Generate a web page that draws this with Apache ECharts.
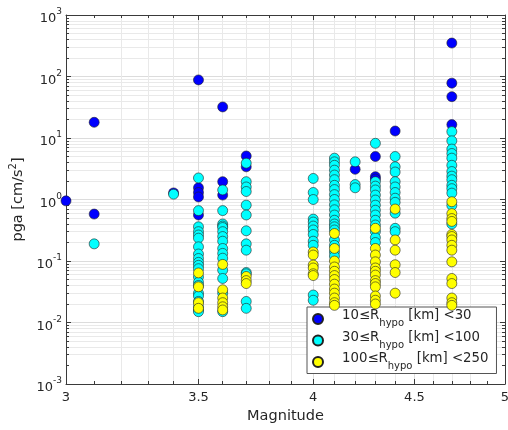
<!DOCTYPE html>
<html>
<head>
<meta charset="utf-8">
<script src="https://cdn.jsdelivr.net/npm/echarts@6/dist/echarts.min.js"></script>
<style>
html,body{margin:0;padding:0;background:#fff;}
#chart{width:508px;height:430px;}
</style>
</head>
<body>
<div id="chart"></div>
<script>
// ---------- data (magnitude, pga in cm/s^2) ----------
const seriesNames = ['10≤Rhypo [km] <30', '30≤Rhypo [km] <100', '100≤Rhypo [km] <250'];
const seriesColors = ['#0000ff', '#00ffff', '#ffff00'];

const rhypo10to30 = [
  [3.0,0.95],[3.1,18],[3.1,0.58],[3.4,1.28],
  [3.5,88],[3.5,1.55],[3.5,1.3],[3.5,1.1],[3.5,0.56],
  [3.6,32],[3.6,1.95],[3.6,1.18],
  [3.7,5.1],[3.7,3.4],
  [4.2,3.1],
  [4.3,5.0],[4.3,2.35],[4.3,2.15],
  [4.4,13],
  [4.7,350],[4.7,78],[4.7,47],[4.7,16.5]
];

const rhypo30to100 = [
  [3.1,0.19],[3.4,1.22],
  [3.5,2.24],[3.5,0.66],[3.5,0.36],[3.5,0.30],[3.5,0.265],[3.5,0.235],[3.5,0.17],[3.5,0.13],[3.5,0.11],
  [3.5,0.095],[3.5,0.085],[3.5,0.075],[3.5,0.055],[3.5,0.045],[3.5,0.040],[3.5,0.030],[3.5,0.027],
  [3.5,0.022],[3.5,0.018],[3.5,0.016],[3.5,0.015],
  [3.6,1.43],[3.6,0.66],[3.6,0.40],[3.6,0.37],[3.6,0.35],[3.6,0.30],[3.6,0.25],[3.6,0.21],[3.6,0.16],
  [3.6,0.133],[3.6,0.111],[3.6,0.071],[3.6,0.052],[3.6,0.030],[3.6,0.015],
  [3.7,3.9],[3.7,1.95],[3.7,1.6],[3.7,1.35],[3.7,0.81],[3.7,0.56],[3.7,0.31],[3.7,0.19],[3.7,0.15],
  [3.7,0.065],[3.7,0.062],[3.7,0.022],[3.7,0.017],
  [4.0,2.2],[4.0,1.3],[4.0,1.0],[4.0,0.48],[4.0,0.43],[4.0,0.37],[4.0,0.32],[4.0,0.27],[4.0,0.21],
  [4.0,0.18],[4.0,0.028],[4.0,0.023],
  [4.1,4.7],[4.1,4.1],[4.1,3.6],[4.1,3.0],[4.1,2.5],[4.1,2.1],[4.1,1.7],[4.1,1.45],[4.1,1.2],[4.1,1.0],
  [4.1,0.82],[4.1,0.68],[4.1,0.56],[4.1,0.46],[4.1,0.40],[4.1,0.36],[4.1,0.32],[4.1,0.22],[4.1,0.18],
  [4.1,0.14],[4.1,0.12],
  [4.2,4.1],[4.2,1.75],[4.2,1.55],
  [4.3,8.2],[4.3,1.95],[4.3,1.65],[4.3,1.43],[4.3,1.18],[4.3,0.98],[4.3,0.81],[4.3,0.67],[4.3,0.56],
  [4.3,0.46],[4.3,0.385],[4.3,0.30],[4.3,0.24],[4.3,0.20],
  [4.4,5.0],[4.4,3.4],[4.4,2.8],[4.4,1.95],[4.4,1.6],[4.4,1.3],[4.4,1.05],[4.4,0.9],[4.4,0.6],
  [4.4,0.34],[4.4,0.30],
  [4.7,12.7],[4.7,9.0],[4.7,6.6],[4.7,5.6],[4.7,4.7],[4.7,3.6],[4.7,2.85],[4.7,2.4],[4.7,2.1],
  [4.7,1.7],[4.7,1.5],[4.7,1.27],[4.7,0.8],[4.7,0.4]
];

const rhypo100to250 = [
  [3.5,0.064],[3.5,0.038],[3.5,0.021],[3.5,0.017],
  [3.6,0.088],[3.6,0.034],[3.6,0.025],[3.6,0.021],[3.6,0.018],[3.6,0.016],
  [3.7,0.056],[3.7,0.048],[3.7,0.043],
  [4.0,0.14],[4.0,0.125],[4.0,0.086],[4.0,0.077],[4.0,0.062],[4.0,0.058],
  [4.1,0.28],[4.1,0.16],[4.1,0.10],[4.1,0.08],[4.1,0.068],[4.1,0.058],[4.1,0.05],[4.1,0.042],
  [4.1,0.035],[4.1,0.03],[4.1,0.025],[4.1,0.021],[4.1,0.019],
  [4.3,0.34],[4.3,0.16],[4.3,0.125],[4.3,0.097],[4.3,0.077],[4.3,0.068],[4.3,0.059],[4.3,0.048],
  [4.3,0.043],[4.3,0.038],[4.3,0.027],[4.3,0.023],[4.3,0.02],
  [4.4,0.7],[4.4,0.22],[4.4,0.15],[4.4,0.087],[4.4,0.065],[4.4,0.03],
  [4.7,0.92],[4.7,0.59],[4.7,0.49],[4.7,0.44],[4.7,0.27],[4.7,0.25],[4.7,0.22],[4.7,0.18],[4.7,0.15],
  [4.7,0.097],[4.7,0.052],[4.7,0.043],[4.7,0.025],[4.7,0.021],[4.7,0.019]
];

// ---------- tick labels ----------
const magTickLabels = [3, 3.5, 4, 4.5, 5];
const magMinorTicks = [3.1,3.2,3.3,3.4,3.6,3.7,3.8,3.9,4.1,4.2,4.3,4.4,4.6,4.7,4.8,4.9];
const pgaExponents = [-3, -2, -1, 0, 1, 2, 3];
const pgaMinorMultipliers = [2, 3, 4, 5, 6, 7, 8, 9];

// ---------- build (log-log axes) ----------
const lg = Math.log10;
const xMin = lg(magTickLabels[0]), xMax = lg(magTickLabels[magTickLabels.length - 1]);
const yMin = pgaExponents[0], yMax = pgaExponents[pgaExponents.length - 1];
const xMajor = magTickLabels.map(lg);
const xMinor = magMinorTicks.map(lg);
const yMajor = pgaExponents.slice();
const yMinor = [];
for (let i = 0; i < pgaExponents.length - 1; i++) {
  pgaMinorMultipliers.forEach(k => yMinor.push(pgaExponents[i] + lg(k)));
}
const toLog = arr => arr.map(p => [lg(p[0]), lg(p[1])]);

const FONT = 'DejaVu Sans';
const TXT = '#262626';
const FRAME = '#3a3a3a';
const MAJOR_GRID = '#dcdcdc';
const MINOR_GRID = '#e9e9e9';

function xAxisDef(position, ticks, len, withLine, withLabel, grid) {
  const a = {
    type: 'value', position: position, min: xMin, max: xMax,
    axisLine: {show: withLine, onZero: false, lineStyle: {color: FRAME, width: 1}},
    axisTick: {show: true, inside: true, length: len, customValues: ticks, lineStyle: {color: FRAME, width: 1}},
    axisLabel: {show: false},
    splitLine: grid ? {show: true, showMinLine: false, showMaxLine: false, lineStyle: {color: grid, width: 1}} : {show: false},
    z: grid ? 0 : 3
  };
  if (withLabel) {
    a.axisLabel = {
      show: true, customValues: ticks, margin: 7,
      color: TXT, fontSize: 13, fontFamily: FONT,
      formatter: v => String(parseFloat(Math.pow(10, v).toFixed(2)))
    };
    a.name = 'Magnitude';
    a.nameLocation = 'middle';
    a.nameGap = 24;
    a.nameTextStyle = {color: TXT, fontSize: 14.5, fontFamily: FONT, verticalAlign: 'top'};
  }
  return a;
}

function yAxisDef(position, ticks, len, withLine, withLabel, grid) {
  const a = {
    type: 'value', position: position, min: yMin, max: yMax,
    axisLine: {show: withLine, onZero: false, lineStyle: {color: FRAME, width: 1}},
    axisTick: {show: true, inside: true, length: len, customValues: ticks, lineStyle: {color: FRAME, width: 1}},
    axisLabel: {show: false},
    splitLine: grid ? {show: true, showMinLine: false, showMaxLine: false, lineStyle: {color: grid, width: 1}} : {show: false},
    z: grid ? 0 : 3
  };
  if (withLabel) {
    a.axisLabel = {
      show: true, customValues: ticks, margin: 4,
      color: TXT, fontSize: 13, fontFamily: FONT,
      formatter: v => '{b|10}{s|' + Math.round(v) + '}',
      rich: {
        b: {color: TXT, fontSize: 13, fontFamily: FONT, lineHeight: 14, verticalAlign: 'bottom'},
        s: {color: TXT, fontSize: 9, fontFamily: FONT, padding: [3, 0, 9, 0], verticalAlign: 'top'}
      }
    };
    a.name = 'pga [cm/s{s|2}]';
    a.nameLocation = 'middle';
    a.nameGap = 33;
    a.nameTextStyle = {
      color: TXT, fontSize: 14.5, fontFamily: FONT,
      rich: {
        s: {color: TXT, fontSize: 10, fontFamily: FONT, padding: [0, 0, 10, 0], verticalAlign: 'top'}
      }
    };
  }
  return a;
}

const chart = echarts.init(document.getElementById('chart'), null, {renderer: 'canvas'});
chart.setOption({
  backgroundColor: '#ffffff',
  animation: false,
  grid: {left: 66, top: 15, width: 439, height: 369, containLabel: false, outerBoundsMode: 'none'},
  xAxis: [
    xAxisDef('bottom', xMajor, 5, true, true, MAJOR_GRID),
    xAxisDef('bottom', xMinor, 3, false, false, MINOR_GRID),
    xAxisDef('top', xMajor, 5, true, false, null),
    xAxisDef('top', xMinor, 3, false, false, null)
  ],
  yAxis: [
    yAxisDef('left', yMajor, 5, true, true, MAJOR_GRID),
    yAxisDef('left', yMinor, 3, false, false, MINOR_GRID),
    yAxisDef('right', yMajor, 5, true, false, null),
    yAxisDef('right', yMinor, 3, false, false, null)
  ],
  legend: {
    orient: 'vertical', left: 307, top: 307,
    padding: [2.5, 8, 2, 5],
    itemWidth: 38, itemHeight: 10, itemGap: 2.5,
    backgroundColor: '#ffffff', borderColor: '#555555', borderWidth: 1, borderRadius: 0,
    selectedMode: false,
    data: seriesNames,
    textStyle: {
      color: TXT, fontSize: 13.3, fontFamily: FONT,
      rich: {
        n: {color: TXT, fontSize: 13.3, fontFamily: FONT, verticalAlign: 'top'},
        sub: {color: TXT, fontSize: 10, fontFamily: FONT, padding: [9, 0, 0, 0], verticalAlign: 'bottom'}
      }
    },
    formatter: name => {
      const parts = name.split('hypo');
      return '{n|' + parts[0] + '}{sub|hypo}{n|' + parts[1] + '}';
    }
  },
  series: [rhypo10to30, rhypo30to100, rhypo100to250].map((d, i) => ({
    type: 'scatter',
    name: seriesNames[i],
    xAxisIndex: 0, yAxisIndex: 0,
    symbol: 'circle',
    symbolSize: 10,
    data: toLog(d),
    itemStyle: {color: seriesColors[i], borderColor: '#222222', borderWidth: 0.6, opacity: 1},
    emphasis: {disabled: true},
    z: 2 + i
  }))
});
</script>
</body>
</html>
